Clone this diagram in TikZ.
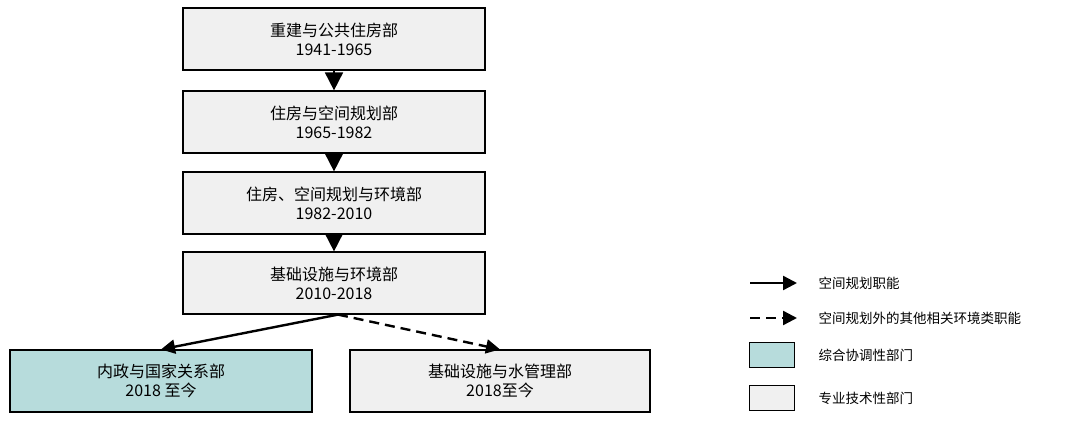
\documentclass[tikz,border=0pt]{standalone}
\usepackage{fontspec}
\setmainfont{Noto Sans CJK SC}
\usetikzlibrary{arrows.meta}
\definecolor{boxgray}{HTML}{F0F0F0}
\definecolor{boxteal}{HTML}{B7DCDC}
\begin{document}
\begin{tikzpicture}[x=1pt,y=-1pt,
  box/.style={draw=black,line width=1.2pt,fill=boxgray,minimum width=302pt,minimum height=62pt,align=center,font=\fontsize{16}{19}\selectfont,inner sep=0pt},
  lbox/.style={draw=black,line width=1.2pt,minimum width=45pt,minimum height=25pt,inner sep=0pt},
  arr/.style={line width=1.8pt,-{Triangle[length=18pt,width=18pt]}},
  arr2/.style={line width=2.4pt,-{Triangle[length=14pt,width=14pt]}},
  lt/.style={anchor=west,font=\fontsize{13.5}{16}\selectfont}]
\useasboundingbox (0,0) rectangle (1080,424);
\node[box] (b1) at (334,39) {重建与公共住房部\\1941-1965};
\node[box] (b2) at (334,122) {住房与空间规划部\\1965-1982};
\node[box] (b3) at (334,203) {住房、空间规划与环境部\\1982-2010};
\node[box] (b4) at (334,283) {基础设施与环境部\\2010-2018};
\node[box,fill=boxteal] (b5) at (161,381) {内政与国家关系部\\2018 至今};
\node[box,minimum width=300pt] (b6) at (500,381) {基础设施与水管理部\\2018至今};
\draw[arr] (b1.south) -- (b2.north);
\draw[arr] (b2.south) -- (b3.north);
\draw[arr] (b3.south) -- (b4.north);
\draw[arr2] ([xshift=4pt]b4.south) -- (b5.north);
\draw[arr2,dash pattern=on 10pt off 6pt] ([xshift=4pt]b4.south) -- (b6.north);
\coordinate (l1a) at (750,283); \coordinate (l1b) at (797,283);
\coordinate (l2a) at (750,318); \coordinate (l2b) at (797,318);
\draw[arr2] (l1a) -- (l1b);
\draw[arr2,dash pattern=on 10pt off 6pt] (l2a) -- (l2b);
\node[lbox,fill=boxteal] (lb1) at (772,355) {};
\node[lbox,fill=boxgray] (lb2) at (772,398) {};
\node[lt] (t1) at (815,283) {空间规划职能};
\node[lt] (t2) at (815,318) {空间规划外的其他相关环境类职能};
\node[lt] (t3) at (815,355) {综合协调性部门};
\node[lt] (t4) at (815,398) {专业技术性部门};
\end{tikzpicture}
\end{document}
